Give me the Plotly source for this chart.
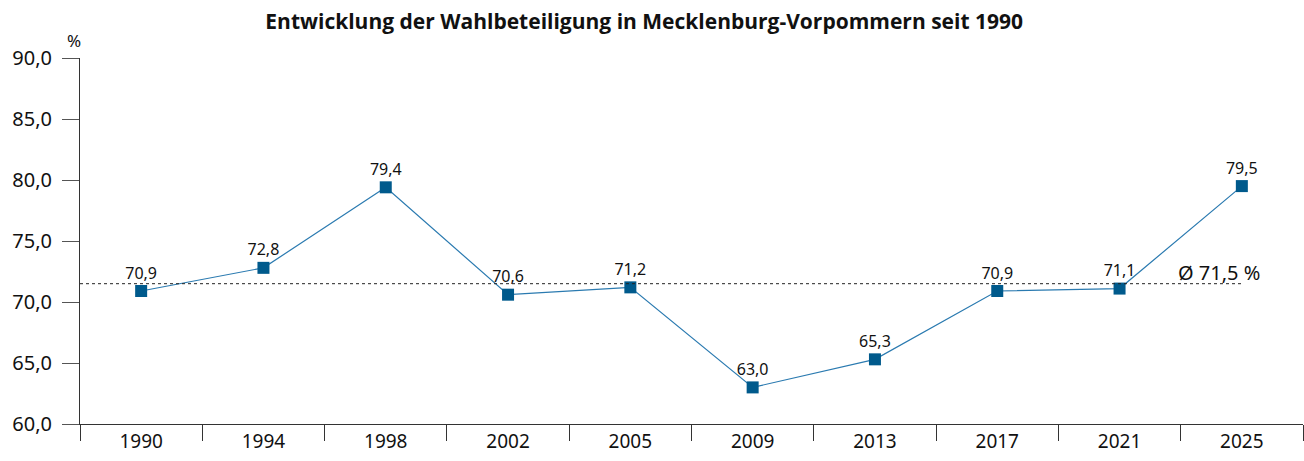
import plotly.graph_objects as go

years = ["1990", "1994", "1998", "2002", "2005", "2009", "2013", "2017", "2021", "2025"]
turnout = [70.9, 72.8, 79.4, 70.6, 71.2, 63.0, 65.3, 70.9, 71.1, 79.5]
average = 71.5
title_text = "<b>Entwicklung der Wahlbeteiligung in Mecklenburg-Vorpommern seit 1990</b>"

labels = [f"{v:.1f}".replace(".", ",") for v in turnout]

fig = go.Figure()
fig.add_trace(go.Scatter(
    x=years, y=turnout, mode="lines+markers+text",
    line=dict(color="#2a7ab0", width=1.2),
    marker=dict(symbol="square", size=12, color="#005a8c"),
    text=labels, textposition="top center",
    textfont=dict(family="Noto Sans", size=16, color="#111111"),
    cliponaxis=False, showlegend=False,
))

fig.add_shape(type="line", xref="x", yref="y", x0=-0.5, x1=len(years) - 1,
              y0=average, y1=average,
              line=dict(color="#222222", width=1, dash="dot"))
fig.add_annotation(x=len(years) - 1, y=average, xref="x", yref="y",
                   text=f"Ø {average:.1f} %".replace(".", ","), showarrow=False,
                   xanchor="right", yanchor="bottom", yshift=-4, xshift=20,
                   font=dict(family="Noto Sans", size=20, color="#111111"))
fig.add_annotation(x=0, y=1, xref="paper", yref="paper", text="%", showarrow=False,
                   xanchor="center", yanchor="bottom", xshift=-6, yshift=4,
                   font=dict(family="Noto Sans", size=17, color="#111111"))

fig.update_layout(
    width=1304, height=461,
    margin=dict(l=80, r=1, t=58, b=37),
    paper_bgcolor="white", plot_bgcolor="white",
    separators=",.",
    title=dict(text=title_text, x=0.494, xanchor="center", y=0.952, yanchor="middle",
               font=dict(family="Open Sans", size=21, color="#111111")),
    xaxis=dict(type="category", tickson="boundaries", ticks="outside", ticklen=16,
               tickcolor="#333333", showline=True, linecolor="#333333", linewidth=1,
               showgrid=False, range=[-0.5, 9.5], automargin=False,
               tickfont=dict(family="Noto Sans", size=19, color="#111111")),
    yaxis=dict(range=[60, 90], dtick=5, tickformat=".1f", ticks="outside", ticklen=17,
               tickcolor="#555555", showline=True, linecolor="#333333", linewidth=1,
               showgrid=False, zeroline=False, automargin=False, ticklabelstandoff=6,
               tickfont=dict(family="Noto Sans", size=20, color="#111111")),
)

fig.write_html("out.html", config={"displayModeBar": False},
               post_script="document.body.style.margin='0';document.body.style.overflow='hidden';")
